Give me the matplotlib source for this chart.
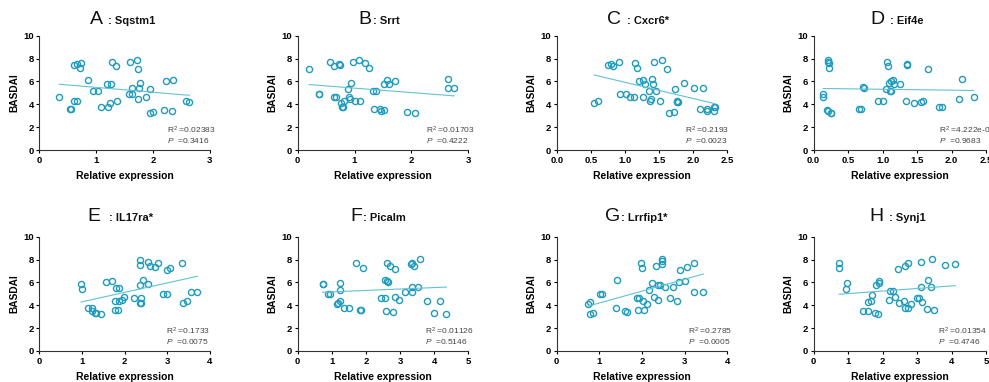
import matplotlib
matplotlib.use('Agg')
import matplotlib.pyplot as plt
import numpy as np

plt.rcParams.update({
    'font.family': ['Liberation Sans', 'DejaVu Sans'],
    'mathtext.fontset': 'custom',
    'mathtext.it': 'Liberation Sans:italic',
    'mathtext.rm': 'Liberation Sans',
    'font.size': 6,
    'axes.linewidth': 0.8,
    'axes.edgecolor': '#333333',
    'xtick.major.size': 2.5,
    'ytick.major.size': 2.5,
    'xtick.major.width': 0.8,
    'ytick.major.width': 0.8,
    'xtick.major.pad': 2,
    'ytick.major.pad': 1.5,
})

# ---- data ----
letters = ['A', 'B', 'C', 'D', 'E', 'F', 'G', 'H']
genes = [': Sqstm1', ': Srrt', ': Cxcr6*', ': Eif4e', ': IL17ra*', ': Picalm', ': Lrrfip1*', ': Synj1']
r2_text = ['0.02383', '0.01703', '0.2193', '4.222e-005', '0.1733', '0.01126', '0.2785', '0.01354']
p_text = ['0.3416', '0.4222', '0.0023', '0.9683', '0.0075', '0.5146', '0.0005', '0.4746']
x_max = [3, 3, 2.5, 2.5, 4, 5, 4, 5]
x_step = [1, 1, 0.5, 0.5, 1, 1, 1, 1]

a_x = [0.35, 0.54, 0.56, 0.61, 0.66, 0.74, 0.71, 0.61, 0.67, 0.85, 0.94, 1.03, 1.09, 1.19, 1.26,
       1.28, 1.35, 1.21, 1.25, 1.37, 1.59, 1.72, 1.74, 1.77, 1.76, 1.63, 1.57, 1.63, 1.73, 1.87,
       1.94, 1.95, 2.0, 2.2, 2.23, 2.36, 2.34, 2.58, 2.64]
a_y = [4.6, 3.56, 3.56, 7.4, 7.52, 7.64, 7.17, 4.31, 4.31, 6.15, 5.13, 5.13, 3.73, 5.8, 5.8,
       7.67, 7.38, 3.73, 4.08, 4.31, 7.7, 7.9, 7.06, 5.86, 5.45, 5.45, 4.9, 4.9, 4.49, 4.66,
       5.36, 3.2, 3.3, 3.47, 6.03, 6.09, 3.41, 4.26, 4.17]

b_x = [0.2, 0.37, 0.38, 0.57, 0.63, 0.73, 0.74, 0.63, 0.67, 0.77, 0.78, 0.79, 0.82, 0.89, 0.93,
       0.91, 0.92, 0.98, 1.0, 1.07, 1.1, 1.18, 1.25, 1.32, 1.37, 1.35, 1.45, 1.46, 1.52, 1.52,
       1.57, 1.61, 1.72, 1.93, 2.06, 2.64, 2.65, 2.75]
b_y = [7.06, 4.9, 4.9, 7.67, 7.38, 7.55, 7.43, 4.6, 4.6, 4.11, 3.73, 3.73, 4.31, 5.36, 5.86,
       4.66, 4.46, 7.7, 4.31, 7.9, 4.31, 7.64, 7.17, 5.13, 5.13, 3.59, 3.59, 3.38, 3.47, 5.77,
       6.12, 5.77, 6.03, 3.3, 3.2, 6.18, 5.45, 5.45]

c_x = [0.55, 0.6, 0.75, 0.79, 0.83, 0.92, 0.93, 1.01, 1.07, 1.14, 1.15, 1.18, 1.21, 1.26, 1.29,
       1.27, 1.36, 1.37, 1.39, 1.4, 1.41, 1.43, 1.46, 1.51, 1.55, 1.62, 1.64, 1.72, 1.73, 1.76,
       1.77, 1.78, 1.86, 2.01, 2.1, 2.15, 2.2, 2.21, 2.3, 2.32, 2.31]
c_y = [4.08, 4.31, 7.43, 7.52, 7.38, 7.67, 4.93, 4.9, 4.6, 4.6, 7.64, 7.17, 6.03, 6.12, 5.77,
       4.66, 5.13, 4.31, 4.49, 6.18, 5.8, 7.73, 5.13, 4.31, 7.9, 7.06, 3.2, 3.3, 5.36, 4.17,
       4.26, 4.17, 5.86, 5.45, 3.59, 5.45, 3.56, 3.38, 3.73, 3.73, 3.44]

d_x = [0.14, 0.14, 0.21, 0.21, 0.23, 0.23, 0.2, 0.21, 0.25, 0.26, 0.66, 0.69, 0.72, 0.73, 0.93,
       1.0, 1.05, 1.07, 1.08, 1.1, 1.11, 1.12, 1.13, 1.15, 1.17, 1.25, 1.34, 1.36, 1.36, 1.45,
       1.56, 1.59, 1.66, 1.82, 1.86, 2.11, 2.15, 2.32]
d_y = [4.9, 4.6, 7.9, 7.7, 7.61, 7.17, 3.47, 3.41, 3.27, 3.2, 3.59, 3.59, 5.48, 5.45, 4.31,
       4.31, 5.36, 7.7, 7.38, 5.83, 5.13, 5.13, 6.03, 6.12, 5.77, 5.8, 4.31, 7.55, 7.43, 4.08,
       4.17, 4.26, 7.06, 3.73, 3.73, 4.46, 6.18, 4.66]

e_x = [0.98, 1.01, 1.15, 1.23, 1.24, 1.3, 1.34, 1.45, 1.56, 1.7, 1.77, 1.77, 1.81, 1.86, 1.84,
       1.88, 1.94, 1.98, 2.23, 2.36, 2.37, 2.37, 2.38, 2.37, 2.38, 2.43, 2.56, 2.55, 2.59, 2.72,
       2.79, 2.9, 2.99, 2.99, 3.07, 3.34, 3.38, 3.46, 3.56, 3.71]
e_y = [5.9, 5.4, 3.76, 3.76, 3.47, 3.35, 3.3, 3.2, 6.06, 6.15, 4.35, 3.59, 5.5, 5.5, 3.59,
       4.35, 4.5, 4.74, 4.62, 8.0, 7.56, 5.8, 4.62, 4.24, 4.18, 6.2, 5.82, 7.76, 7.44, 7.38,
       7.74, 4.97, 4.97, 7.12, 7.3, 7.68, 4.18, 4.38, 5.18, 5.18]

f_x = [0.73, 0.75, 0.89, 0.96, 1.14, 1.18, 1.24, 1.24, 1.25, 1.36, 1.5, 1.72, 1.82, 1.87, 1.91,
       2.45, 2.57, 2.57, 2.63, 2.65, 2.59, 2.62, 2.7, 2.79, 2.86, 2.86, 2.96, 3.15, 3.32, 3.35,
       3.4, 3.34, 3.34, 3.53, 3.59, 3.78, 4.01, 4.17, 4.36]
f_y = [5.82, 5.82, 4.97, 4.97, 4.15, 4.24, 5.97, 5.38, 4.35, 3.73, 3.73, 7.68, 3.59, 3.59, 7.24,
       4.62, 4.62, 6.2, 6.12, 6.06, 3.47, 7.74, 7.41, 3.44, 7.15, 4.71, 4.5, 5.15, 7.62, 7.74,
       7.47, 5.56, 5.12, 5.56, 8.03, 4.38, 3.32, 4.35, 3.24]

g_x = [0.73, 0.78, 0.79, 0.84, 1.02, 1.06, 1.38, 1.41, 1.6, 1.66, 1.88, 1.94, 1.91, 1.97, 2.0,
       2.03, 2.05, 2.13, 2.16, 2.23, 2.28, 2.34, 2.38, 2.38, 2.42, 2.47, 2.48, 2.48, 2.54, 2.66,
       2.72, 2.83, 2.89, 2.88, 3.0, 3.06, 3.21, 3.22, 3.44]
g_y = [4.15, 4.29, 3.24, 3.32, 4.97, 4.97, 3.79, 6.23, 3.47, 3.41, 4.62, 4.62, 3.59, 7.74, 7.24,
       4.35, 3.59, 4.12, 5.38, 5.94, 4.71, 7.47, 4.5, 5.8, 5.8, 8.03, 7.85, 7.62, 5.56, 4.65,
       5.56, 4.35, 7.12, 6.06, 6.15, 7.38, 7.74, 5.18, 5.18]

h_x = [0.74, 0.74, 0.93, 0.98, 1.44, 1.58, 1.59, 1.66, 1.71, 1.78, 1.86, 1.8, 1.89, 1.9, 2.2,
       2.23, 2.29, 2.35, 2.45, 2.48, 2.62, 2.66, 2.66, 2.75, 2.75, 2.84, 3.01, 3.05, 3.13, 3.13,
       3.14, 3.28, 3.32, 3.4, 3.44, 3.5, 3.8, 4.11]
h_y = [7.71, 7.24, 5.41, 5.94, 3.53, 3.47, 4.32, 4.35, 4.91, 3.29, 3.21, 5.79, 6.15, 5.91, 4.5,
       5.21, 5.21, 4.76, 7.15, 4.18, 4.41, 7.44, 3.76, 3.76, 7.74, 4.15, 4.68, 4.68, 7.79, 5.56,
       4.29, 3.65, 6.24, 5.56, 8.03, 3.62, 7.5, 7.59]

xs = [a_x, b_x, c_x, d_x, e_x, f_x, g_x, h_x]
ys = [a_y, b_y, c_y, d_y, e_y, f_y, g_y, h_y]

# ---- layout (pixels of the 989x382 picture) ----
W, H = 989, 382
col_left = [39.3, 297.7, 556.7, 813.5]
col_width = [170.5, 170.5, 170.5, 172.5]
row_top = [35.7, 236.7]
ax_h = 114.3
title_split = [0.375, 0.43, 0.378, 0.41, 0.356, 0.376, 0.371, 0.407]
title_gap = [0.03, 0.01, 0.035, 0.035, 0.05, 0.008, 0.006, 0.03]
title_y = [1.105, 1.105, 1.105, 1.105, 1.14, 1.14, 1.14, 1.14]
stat_x = [0.75, 0.75, 0.75, 0.73, 0.746, 0.744, 0.77, 0.72]

dot_col = '#1f9bbd'
fit_col = '#63c1d3'

fig = plt.figure(figsize=(W / 100, H / 100), dpi=100)

for i in range(8):
    r, c = divmod(i, 4)
    left = col_left[c] / W
    bottom = 1 - (row_top[r] + ax_h) / H
    ax = fig.add_axes([left, bottom, col_width[c] / W, ax_h / H])

    x = np.array(xs[i])
    y = np.array(ys[i])
    ax.plot(x, y, 'o', ms=4.4, mfc='none', mec=dot_col, mew=1.0, clip_on=False)

    k, b = np.polyfit(x, y, 1)
    xl = np.array([x.min(), x.max()])
    ax.plot(xl, k * xl + b, color=fit_col, lw=0.8)

    ax.set_xlim(0, x_max[i])
    ax.set_ylim(0, 10)
    ax.set_xticks(np.arange(0, x_max[i] + 1e-9, x_step[i]))
    ax.set_yticks(np.arange(0, 11, 2))
    if x_step[i] < 1:
        ax.xaxis.set_major_formatter(plt.FormatStrFormatter('%.1f'))
    for lab in ax.get_xticklabels() + ax.get_yticklabels():
        lab.set_fontweight('bold')
        lab.set_fontsize(6.8)
    ax.spines['top'].set_visible(False)
    ax.spines['right'].set_visible(False)

    ax.set_xlabel('Relative expression', fontsize=7.5, fontweight='bold', labelpad=4)
    ax.set_ylabel('BASDAI', fontsize=7.3, fontweight='bold', labelpad=3)

    sp = title_split[i]
    ax.text(sp, title_y[i], letters[i], transform=ax.transAxes, ha='right', va='baseline',
            fontsize=14, color='#111111')
    ax.text(sp + title_gap[i], title_y[i], genes[i], transform=ax.transAxes, ha='left',
            va='baseline', fontsize=8, fontweight='bold', color='#111111')

    ax.text(stat_x[i], 0.175, 'R$^2$ =' + r2_text[i], transform=ax.transAxes, ha='left',
            va='center', fontsize=6, color='#444444')
    ax.text(stat_x[i], 0.085, r'$\mathit{P}$  =' + p_text[i], transform=ax.transAxes, ha='left',
            va='center', fontsize=6, color='#444444')

fig.savefig('out.png', dpi=100)
